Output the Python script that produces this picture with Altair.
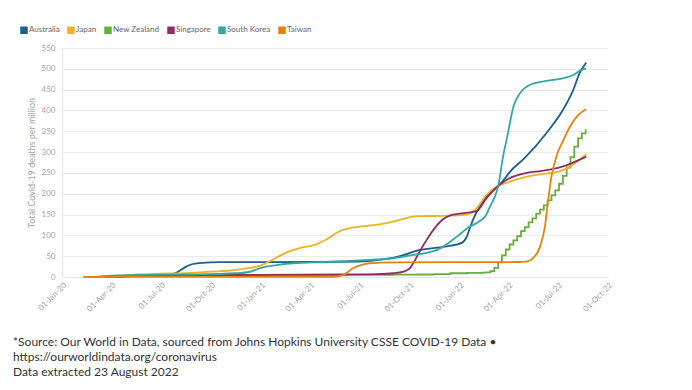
import altair as alt
import pandas as pd

countries = ["Australia", "Japan", "New Zealand", "Singapore", "South Korea", "Taiwan"]
colors = ["#1f5d8c", "#f0b220", "#6aad3e", "#8e2c63", "#33a8a3", "#e8820e"]

au_dates = ["2020-02-10", "2020-04-01", "2020-05-01", "2020-07-01", "2020-07-25", "2020-08-10",
            "2020-08-25", "2020-09-15", "2020-10-15", "2021-04-01", "2021-07-01", "2021-08-05",
            "2021-09-10", "2021-10-20", "2021-12-05", "2022-01-05", "2022-01-14", "2022-01-22",
            "2022-02-01", "2022-02-08", "2022-02-19", "2022-02-26", "2022-03-16", "2022-03-28",
            "2022-04-02", "2022-05-01", "2022-06-10", "2022-07-10", "2022-07-29", "2022-08-10",
            "2022-08-22"]
au_vals = [0, 1.5, 3.5, 4.5, 8, 20, 30, 34, 35.5, 36, 37, 41, 49, 65, 73, 82, 96, 125, 155, 170,
           193, 203, 222, 241, 250, 286, 346, 401, 449, 490, 515]

jp_dates = ["2020-02-10", "2020-04-01", "2020-05-15", "2020-07-01", "2020-08-15", "2020-10-01",
            "2020-11-01", "2020-12-01", "2021-01-01", "2021-01-20", "2021-02-15", "2021-03-15",
            "2021-04-10", "2021-05-01", "2021-05-25", "2021-06-15", "2021-07-15", "2021-08-15",
            "2021-09-15", "2021-10-15", "2021-12-01", "2022-01-15", "2022-02-01", "2022-02-20",
            "2022-03-10", "2022-04-01", "2022-05-01", "2022-06-01", "2022-07-01", "2022-07-20",
            "2022-08-10", "2022-08-22"]
jp_vals = [0, 0.5, 6, 8, 9, 13, 15, 20, 28, 40, 58, 70, 77, 90, 110, 118, 123, 128, 138, 146,
           147, 150, 165, 198, 217, 228, 240, 247, 253, 262, 282, 295]

nz_dates = ["2020-02-28", "2020-03-29", "2020-04-12", "2020-04-19", "2020-05-03", "2020-06-01",
            "2021-01-01", "2021-09-01", "2021-10-15", "2021-11-15", "2021-12-15", "2022-01-15",
            "2022-02-13", "2022-02-20", "2022-02-27", "2022-03-06", "2022-03-13", "2022-03-20",
            "2022-03-27", "2022-04-03", "2022-04-10", "2022-04-17", "2022-04-24", "2022-05-01",
            "2022-05-08", "2022-05-15", "2022-05-22", "2022-05-29", "2022-06-05", "2022-06-12",
            "2022-06-19", "2022-06-26", "2022-07-03", "2022-07-10", "2022-07-17", "2022-07-24",
            "2022-07-31", "2022-08-07", "2022-08-14", "2022-08-21"]
nz_vals = [0, 0.2, 1, 2.5, 4, 4.5, 5, 5.5, 6, 7, 9, 10, 10.5, 11, 14, 22, 35, 52, 66, 78, 88, 98,
           110, 120, 131, 141, 152, 162, 172, 184, 196, 208, 224, 243, 263, 288, 313, 333, 345, 355]

sg_dates = ["2020-03-20", "2020-04-15", "2020-05-15", "2020-07-01", "2021-01-01", "2021-06-01",
            "2021-08-01", "2021-09-01", "2021-09-20", "2021-10-01", "2021-10-10", "2021-10-20",
            "2021-11-01", "2021-11-15", "2021-12-01", "2021-12-15", "2022-01-01", "2022-02-01",
            "2022-02-20", "2022-03-15", "2022-04-01", "2022-05-01", "2022-06-01", "2022-07-01",
            "2022-07-20", "2022-08-10", "2022-08-22"]
sg_vals = [0, 0.5, 3, 4.5, 5, 6, 7, 9, 13, 20, 38, 62, 88, 115, 138, 148, 152, 158, 190, 221,
           236, 249, 255, 262, 270, 282, 289]

kr_dates = ["2020-02-10", "2020-03-10", "2020-04-01", "2020-06-01", "2020-09-01", "2020-11-15",
            "2020-12-10", "2020-12-25", "2021-01-10", "2021-02-01", "2021-03-01", "2021-05-01",
            "2021-07-01", "2021-09-01", "2021-10-08", "2021-11-01", "2021-11-21", "2021-12-10",
            "2021-12-27", "2022-01-20", "2022-02-08", "2022-02-19", "2022-02-26", "2022-03-06",
            "2022-03-13", "2022-03-22", "2022-03-31", "2022-04-10", "2022-04-22", "2022-05-10",
            "2022-06-10", "2022-07-10", "2022-07-29", "2022-08-10", "2022-08-22"]
kr_vals = [0, 1, 3, 5, 6, 9, 12, 19, 25, 29, 33, 36, 40, 45, 53, 58, 65, 80, 97, 121, 135, 149,
           169, 190, 217, 289, 345, 409, 441, 461, 471, 477, 485, 495, 501]

tw_dates = ["2020-02-10", "2020-04-15", "2021-05-15", "2021-05-25", "2021-06-05", "2021-06-19",
            "2021-07-05", "2021-07-20", "2021-09-01", "2022-04-20", "2022-05-04", "2022-05-16",
            "2022-05-29", "2022-06-07", "2022-06-13", "2022-06-19", "2022-06-28", "2022-07-11",
            "2022-07-23", "2022-08-07", "2022-08-22"]
tw_vals = [0, 0.2, 0.5, 2, 8, 21, 29, 33, 35, 36, 37, 45, 73, 121, 185, 241, 289, 329, 361,
           389, 403]

footer_lines = [
    "*Source: Our World in Data, sourced from Johns Hopkins University CSSE COVID-19 Data \u2022",
    "https://ourworldindata.org/coronavirus",
    "Data extracted 23 August 2022",
]

y_ticks = list(range(0, 551, 50))
x_tick_dates = ["2020-01-01", "2020-04-01", "2020-07-01", "2020-10-01",
                "2021-01-01", "2021-04-01", "2021-07-01", "2021-10-01",
                "2022-01-01", "2022-04-01", "2022-07-01", "2022-10-01"]

series = [
    ("Australia", au_dates, au_vals),
    ("Japan", jp_dates, jp_vals),
    ("Singapore", sg_dates, sg_vals),
    ("South Korea", kr_dates, kr_vals),
    ("Taiwan", tw_dates, tw_vals),
]
rows = []
for name, ds, vs in series:
    for d, v in zip(ds, vs):
        rows.append({"country": name, "date": d, "value": v})
smooth_df = pd.DataFrame(rows)
nz_df = pd.DataFrame({"country": "New Zealand", "date": nz_dates, "value": nz_vals})

FONT = "Lato"

def tick_dt(s):
    y, m, d = map(int, s.split("-"))
    return alt.DateTime(year=y, month=m, date=d, utc=True)

x_enc = alt.X(
    "date:T",
    scale=alt.Scale(type="utc", domain=[tick_dt("2020-01-01"), tick_dt("2022-10-01")]),
    axis=alt.Axis(
        values=[tick_dt(s) for s in x_tick_dates],
        labelExpr="utcFormat(datum.value, '%d-%b-%y')",
        labelAngle=-45,
        labelFontSize=8,
        labelColor="#a6a6a6",
        labelFont=FONT,
        grid=False,
        ticks=False,
        domainColor="#e6e6e6",
        labelPadding=4,
        title=None,
    ),
)
y_enc = alt.Y(
    "value:Q",
    scale=alt.Scale(domain=[0, 550], nice=False),
    axis=alt.Axis(
        values=y_ticks,
        labelFontSize=8,
        labelColor="#a6a6a6",
        labelFont=FONT,
        labelPadding=7,
        ticks=False,
        gridColor="#ebebeb",
        domainColor="#e6e6e6",
        title="Total Covid-19 deaths per million",
        titleFont=FONT,
        titleFontSize=9,
        titleFontWeight="normal",
        titleColor="#a6a6a6",
        titlePadding=5,
    ),
)
color_enc = alt.Color(
    "country:N",
    scale=alt.Scale(domain=countries, range=colors),
    legend=alt.Legend(
        orient="none",
        legendX=-42,
        legendY=-22,
        direction="horizontal",
        title=None,
        symbolType="square",
        symbolSize=9,
        symbolStrokeWidth=4.5,
        labelFont=FONT,
        labelFontSize=8,
        labelColor="#666666",
        labelOffset=1,
        columnPadding=0,
    ),
)

smooth = alt.Chart(smooth_df).mark_line(interpolate="monotone", strokeWidth=1.8).encode(
    x=x_enc, y=y_enc, color=color_enc
)
steps = alt.Chart(nz_df).mark_line(interpolate="step-after", strokeWidth=1.8).encode(
    x=x_enc, y=y_enc, color=color_enc
)

texts = []
for i, line in enumerate(footer_lines):
    texts.append(
        alt.Chart(pd.DataFrame({"t": [line]})).mark_text(
            align="left", baseline="middle", font=FONT, fontSize=12, color="#333333"
        ).encode(text="t:N", x=alt.value(-49), y=alt.value(294 + 15 * i))
    )

chart = alt.layer(steps, smooth, *texts).properties(
    width=546,
    height=229,
    autosize=alt.AutoSizeParams(type="none"),
    padding={"left": 54, "top": 40, "right": 60, "bottom": 112},
).configure_view(stroke=None)

chart.save("out.html", embed_options={"renderer": "svg", "actions": False})
